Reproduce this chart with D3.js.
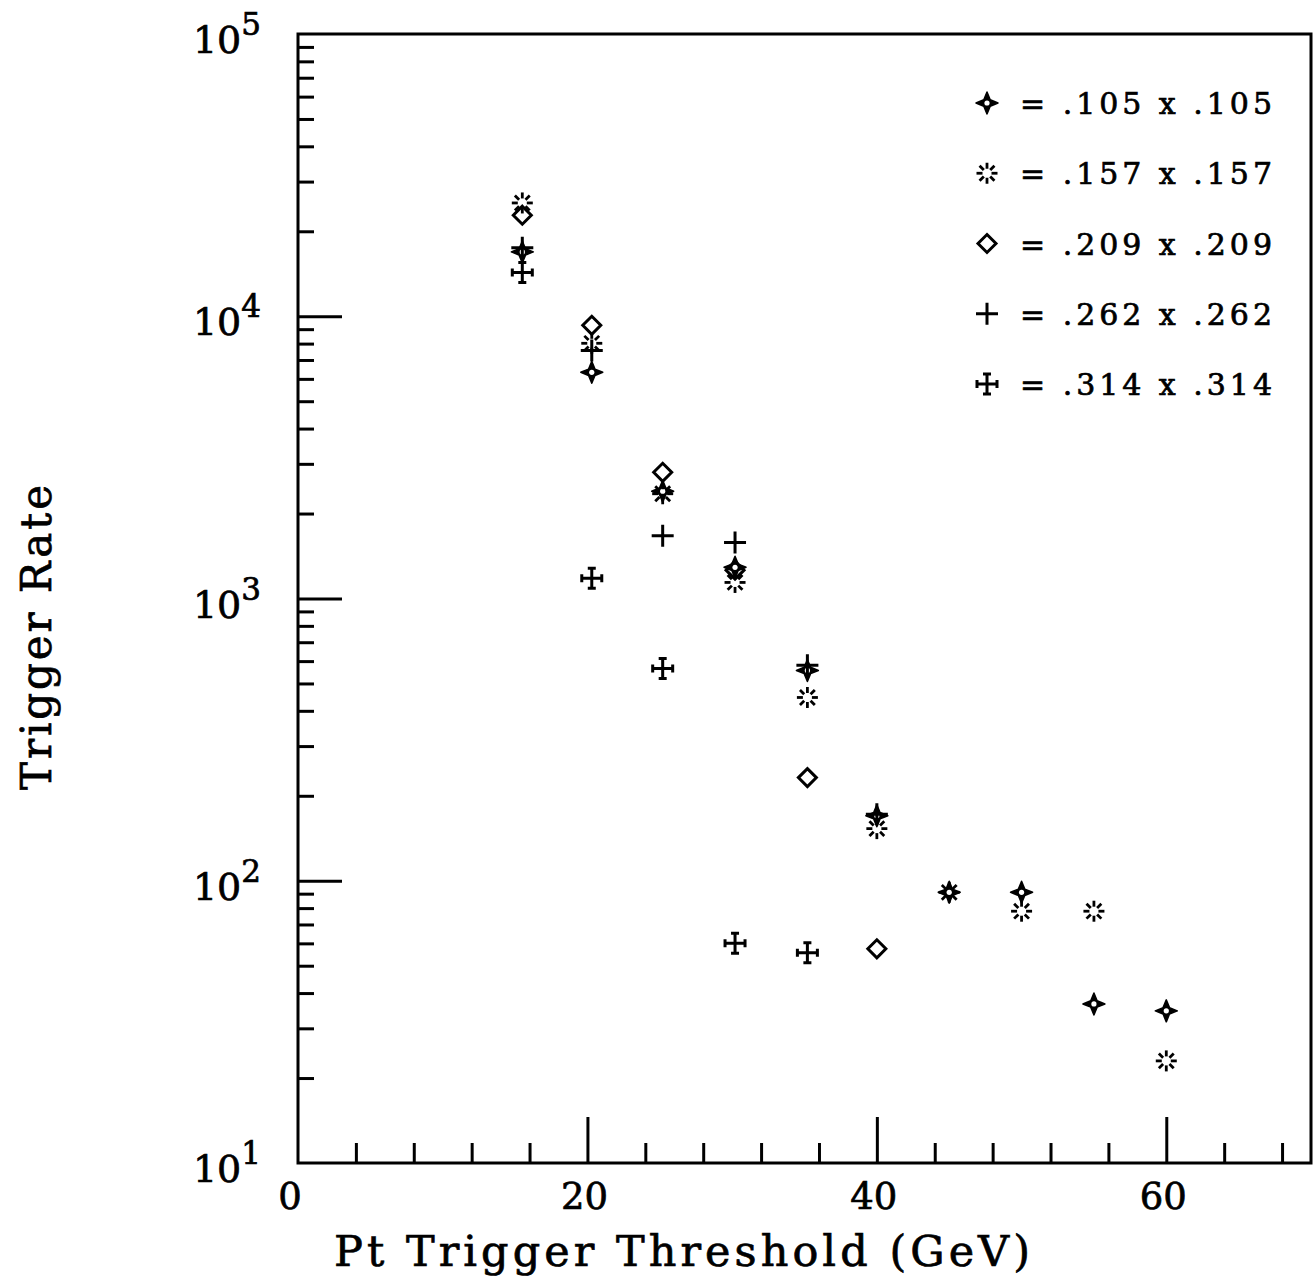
<!DOCTYPE html>
<html>
<head>
<meta charset="utf-8">
<script src="https://cdn.jsdelivr.net/npm/d3@7"></script>
<style>
  body { margin: 0; background: #fff; }
  text { font-family: "DejaVu Serif", "Liberation Serif", serif; fill: #000; stroke: #000; stroke-width: 0.7px; }
</style>
</head>
<body>
<script>
// thresholds (GeV)
var thresholds = [15.5, 20.3, 25.2, 30.2, 35.2, 40, 45, 50, 55, 60];

// trigger rate per tower size, null = no point drawn
var rate105 = [16900, 6330, 2400, 1290, 556, 170, 91, 91, 36.6, 34.6];
var rate157 = [25200, 8020, 2350, 1140, 446, 153, 91, 78, 78, 23];
var rate209 = [22800, 9290, 2800, 1260, 232, 57.4, null, null, null, null];
var rate262 = [17500, 7570, 1670, 1580, 580, 172, null, null, null, null];
var rate314 = [14300, 1180, 565, 60, 55.6, null, null, null, null, null];

var legendLabels = ["= .105 x .105", "= .157 x .157", "= .209 x .209", "= .262 x .262", "= .314 x .314"];
var xTickLabels = [0, 20, 40, 60];
var yTickLabels = [1, 2, 3, 4, 5]; // exponents of ten

var W = 1316, H = 1283;
var svg = d3.select("body").append("svg")
    .attr("width", W)
    .attr("height", H);

var x = d3.scaleLinear().domain([0, 70]).range([298, 1311]);
var y = d3.scaleLog().domain([10, 1e5]).range([1163, 34]);

// minor ticks on the log axis
var minorY = [];
for (var e = 1; e < 5; e++) {
    for (var m = 2; m <= 9; m++) minorY.push(m * Math.pow(10, e));
}
var majorY = yTickLabels.map(function (p) { return Math.pow(10, p); });

var minorX = d3.range(4, 70, 4).filter(function (v) { return v % 20 != 0; });

var black = "#000";

// frame
svg.append("rect")
    .attr("x", x(0))
    .attr("y", y(1e5))
    .attr("width", x(70) - x(0))
    .attr("height", y(10) - y(1e5))
    .attr("fill", "none")
    .attr("stroke", black)
    .attr("stroke-width", 3);

function tickAxis(gen, tx, ty, len) {
    var g = svg.append("g").attr("transform", "translate(" + tx + "," + ty + ")")
        .call(gen.tickSize(len).tickFormat(""));
    g.select(".domain").remove();
    g.selectAll(".tick line").attr("stroke", black).attr("stroke-width", 3);
    return g;
}

tickAxis(d3.axisLeft(y).tickValues(minorY), x(0), 0, -16);
tickAxis(d3.axisLeft(y).tickValues(majorY.slice(1, 4)), x(0), 0, -44);
tickAxis(d3.axisBottom(x).tickValues(minorX), 0, y(10), -20);
tickAxis(d3.axisBottom(x).tickValues([20, 40, 60]), 0, y(10), -46);

// y tick labels 10^n
yTickLabels.forEach(function (p) {
    var t = svg.append("text")
        .attr("x", 261)
        .attr("y", y(Math.pow(10, p)) + 19)
        .attr("text-anchor", "end")
        .style("font-size", "38px");
    t.append("tspan").text("10");
    t.append("tspan")
        .attr("dy", -18)
        .style("font-size", "31px")
        .text(p);
});

// x tick labels
svg.selectAll(".xlab")
    .data(xTickLabels)
    .enter().append("text")
    .attr("class", "xlab")
    .attr("x", function (d) { return x(d) - (d == 0 ? 8 : 3); })
    .attr("y", 1209)
    .attr("text-anchor", "middle")
    .style("font-size", "37px")
    .text(function (d) { return d; });

// axis titles
svg.append("text")
    .attr("x", 334)
    .attr("y", 1266)
    .attr("textLength", 696)
    .attr("lengthAdjust", "spacing")
    .style("font-size", "43px")
    .text("Pt Trigger Threshold (GeV)");

svg.append("text")
    .attr("transform", "translate(51,790) rotate(-90)")
    .attr("textLength", 305)
    .attr("lengthAdjust", "spacing")
    .style("font-size", "42px")
    .text("Trigger Rate");

// marker drawers, each draws at (0,0) inside a group
function drawStar(g) {
    var r = 11, k = 3.2;
    var pts = [[0, -r], [k, -k], [r, 0], [k, k], [0, r], [-k, k], [-r, 0], [-k, -k]];
    g.append("path").attr("d", "M" + pts.join("L") + "Z").attr("fill", black)
        .attr("stroke", black).attr("stroke-width", 1.5).attr("stroke-linejoin", "round");
    g.append("circle").attr("r", 2.6).attr("fill", "#fff");
}

function drawAsterisk(g) {
    d3.range(8).forEach(function (i) {
        var a = i * Math.PI / 4;
        g.append("line")
            .attr("x1", 4.5 * Math.cos(a)).attr("y1", 4.5 * Math.sin(a))
            .attr("x2", 10.5 * Math.cos(a)).attr("y2", 10.5 * Math.sin(a))
            .attr("stroke", black).attr("stroke-width", 2.8);
    });
}

function drawDiamond(g) {
    var r = 9;
    g.append("path").attr("d", "M0," + (-r) + "L" + r + ",0L0," + r + "L" + (-r) + ",0Z")
        .attr("fill", "none").attr("stroke", black).attr("stroke-width", 3);
}

function drawPlus(g) {
    g.append("path").attr("d", "M-11,0H11M0,-11V11")
        .attr("fill", "none").attr("stroke", black).attr("stroke-width", 3);
}

function drawCross(g) {
    g.append("path").attr("d", "M-10,0H10M0,-10V10M-10,-4V4M10,-4V4M-4,-10H4M-4,10H4")
        .attr("fill", "none").attr("stroke", black).attr("stroke-width", 3);
}

var series = [
    { values: rate105, draw: drawStar },
    { values: rate157, draw: drawAsterisk },
    { values: rate209, draw: drawDiamond },
    { values: rate262, draw: drawPlus },
    { values: rate314, draw: drawCross }
];

series.forEach(function (s) {
    s.values.forEach(function (v, i) {
        if (v == null) return;
        var g = svg.append("g")
            .attr("transform", "translate(" + x(thresholds[i]) + "," + y(v) + ")");
        s.draw(g);
    });
});

// legend
var legendY = d3.scalePoint().domain(d3.range(5)).range([103, 384]);
series.forEach(function (s, i) {
    var g = svg.append("g").attr("transform", "translate(987," + legendY(i) + ")");
    s.draw(g);
    svg.append("text")
        .attr("x", 1020)
        .attr("y", legendY(i) + 11)
        .attr("textLength", 252)
        .attr("lengthAdjust", "spacing")
        .style("font-size", "30px")
        .text(legendLabels[i]);
});
</script>
</body>
</html>
